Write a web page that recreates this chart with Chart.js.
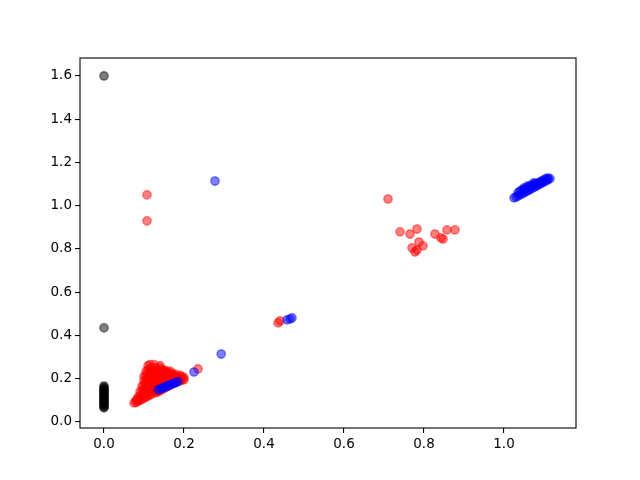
<!DOCTYPE html>
<html>
<head>
<meta charset="utf-8">
<script src="https://cdn.jsdelivr.net/npm/chart.js@4"></script>
<style>
  html, body { margin: 0; padding: 0; background: #fff; }
  #wrap { width: 640px; height: 480px; }
</style>
</head>
<body>
<div id="wrap"><canvas id="scatterChart" width="640" height="480"></canvas></div>
<script>
// axis ticks
const xTicks = [0.0, 0.2, 0.4, 0.6, 0.8, 1.0]
const yTicks = [0.0, 0.2, 0.4, 0.6, 0.8, 1.0, 1.2, 1.4, 1.6]

// red series: x values and y values (one line per column of the dense cluster)
const redX = [
  0.075,
  0.08, 0.08,
  0.085, 0.085, 0.085,
  0.09, 0.09, 0.09,
  0.095, 0.095, 0.095, 0.095,
  0.10, 0.10, 0.10, 0.10, 0.10, 0.10,
  0.105, 0.105, 0.105, 0.105, 0.105, 0.105, 0.105,
  0.11, 0.11, 0.11, 0.11, 0.11, 0.11, 0.11, 0.11,
  0.115, 0.115, 0.115, 0.115, 0.115, 0.115, 0.115, 0.115,
  0.12, 0.12, 0.12, 0.12, 0.12, 0.12, 0.12,
  0.125, 0.125, 0.125, 0.125, 0.125, 0.125, 0.125,
  0.13, 0.13, 0.13, 0.13, 0.13, 0.13, 0.13,
  0.135, 0.135, 0.135, 0.135, 0.135, 0.135,
  0.14, 0.14, 0.14, 0.14, 0.14, 0.14, 0.14,
  0.145, 0.145, 0.145, 0.145, 0.145, 0.145,
  0.15, 0.15, 0.15, 0.15, 0.15, 0.15,
  0.155, 0.155, 0.155, 0.155, 0.155,
  0.16, 0.16, 0.16, 0.16,
  0.165, 0.165, 0.165, 0.165, 0.165,
  0.17, 0.17, 0.17, 0.17,
  0.175, 0.175, 0.175,
  0.18, 0.18, 0.18, 0.18,
  0.185, 0.185,
  0.19, 0.19, 0.19,
  0.195, 0.195,
  0.20, 0.20,
  0.235,
  0.1075, 0.1075,
  0.435, 0.44,
  0.71, 0.74, 0.765, 0.7825, 0.8275, 0.8425, 0.8475, 0.8575, 0.8775,
  0.77, 0.7775, 0.7875, 0.7975, 0.7825
]
const redY = [
  0.088,
  0.09, 0.10,
  0.095, 0.105, 0.115,
  0.10, 0.12, 0.14,
  0.105, 0.125, 0.145, 0.165,
  0.11, 0.13, 0.15, 0.17, 0.19, 0.21,
  0.115, 0.135, 0.155, 0.175, 0.195, 0.215, 0.235,
  0.12, 0.14, 0.16, 0.18, 0.20, 0.22, 0.24, 0.26,
  0.125, 0.145, 0.165, 0.185, 0.205, 0.225, 0.245, 0.265,
  0.13, 0.15, 0.17, 0.19, 0.21, 0.23, 0.25,
  0.14, 0.16, 0.18, 0.20, 0.22, 0.24, 0.265,
  0.135, 0.15, 0.17, 0.19, 0.21, 0.23, 0.25,
  0.14, 0.16, 0.18, 0.20, 0.22, 0.24,
  0.145, 0.17, 0.19, 0.21, 0.23, 0.25, 0.26,
  0.15, 0.16, 0.18, 0.20, 0.22, 0.24,
  0.155, 0.17, 0.19, 0.21, 0.23, 0.24,
  0.16, 0.18, 0.20, 0.22, 0.235,
  0.165, 0.19, 0.21, 0.23,
  0.17, 0.18, 0.20, 0.22, 0.235,
  0.175, 0.19, 0.21, 0.225,
  0.18, 0.20, 0.215,
  0.185, 0.195, 0.21, 0.22,
  0.19, 0.205,
  0.19, 0.20, 0.215,
  0.195, 0.21,
  0.195, 0.205,
  0.245,
  1.05, 0.93,
  0.458, 0.467,
  1.031, 0.879, 0.869, 0.892, 0.869, 0.851, 0.846, 0.888, 0.888,
  0.805, 0.786, 0.832, 0.814, 0.795
]

// blue series
const blueX = [
  0.135, 0.14, 0.145, 0.15, 0.155, 0.16, 0.165, 0.17, 0.175, 0.18, 0.185,
  0.225, 0.2775, 0.293,
  0.4575, 0.465, 0.47,
  1.025, 1.03, 1.035, 1.035, 1.04, 1.04, 1.045, 1.045,
  1.05, 1.05, 1.05, 1.055, 1.055, 1.06, 1.06, 1.06,
  1.065, 1.065, 1.07, 1.07, 1.075, 1.075, 1.075,
  1.08, 1.08, 1.085, 1.085, 1.09, 1.09, 1.095, 1.095,
  1.10, 1.10, 1.105, 1.105, 1.11, 1.11, 1.115
]
const blueY = [
  0.148, 0.153, 0.156, 0.16, 0.163, 0.168, 0.172, 0.176, 0.179, 0.182, 0.187,
  0.231, 1.114, 0.314,
  0.472, 0.476, 0.481,
  1.036, 1.04, 1.045, 1.06, 1.05, 1.068, 1.055, 1.072,
  1.06, 1.075, 1.082, 1.065, 1.08, 1.07, 1.085, 1.092,
  1.075, 1.09, 1.08, 1.095, 1.085, 1.10, 1.106,
  1.09, 1.10, 1.095, 1.106, 1.10, 1.11, 1.105, 1.115,
  1.11, 1.12, 1.115, 1.125, 1.12, 1.128, 1.125
]

// black series (all at x = 0)
const blackY = [
  0.065, 0.07, 0.075, 0.08, 0.085, 0.09, 0.095, 0.10, 0.105, 0.11,
  0.115, 0.12, 0.125, 0.13, 0.135, 0.14, 0.145, 0.15, 0.155, 0.16, 0.166,
  0.435, 1.6
]
const blackX = blackY.map(() => 0)

const toPoints = (xs, ys) => xs.map((x, i) => ({ x: x, y: ys[i] }))

const frame = {
  id: 'frame',
  afterDatasetsDraw(chart) {
    const a = chart.chartArea
    const ctx = chart.ctx
    ctx.save()
    ctx.strokeStyle = '#000'
    ctx.lineWidth = 1.1
    ctx.strokeRect(a.left, a.top, a.right - a.left, a.bottom - a.top)
    ctx.restore()
  }
}

const axisStyle = {
  grid: { drawOnChartArea: false, drawTicks: true, tickLength: 5, color: '#000', lineWidth: 1.1 },
  border: { display: false },
  ticks: {
    color: '#000',
    padding: 3,
    font: { family: 'DejaVu Sans', size: 13.5 },
    callback: v => v.toFixed(1)
  }
}

new Chart('scatterChart', {
  type: 'scatter',
  data: {
    datasets: [
      {
        data: toPoints(blueX, blueY),
        backgroundColor: 'rgba(0, 0, 255, 0.5)',
        borderColor: 'rgba(0, 0, 255, 0.5)'
      },
      {
        data: toPoints(redX, redY),
        backgroundColor: 'rgba(255, 0, 0, 0.5)',
        borderColor: 'rgba(255, 0, 0, 0.5)'
      },
      {
        data: toPoints(blackX, blackY),
        backgroundColor: 'rgba(0, 0, 0, 0.5)',
        borderColor: 'rgba(0, 0, 0, 0.5)'
      }
    ]
  },
  options: {
    responsive: false,
    animation: false,
    layout: { padding: { left: 0, right: 64, top: 58, bottom: 0 } },
    elements: { point: { radius: 4.2, borderWidth: 1.3, hoverRadius: 4.2 } },
    plugins: { legend: { display: false }, tooltip: { enabled: false } },
    scales: {
      x: {
        ...axisStyle,
        min: -0.06,
        max: 1.18,
        afterBuildTicks: s => { s.ticks = xTicks.map(v => ({ value: v })) },
        afterFit: s => { s.height = 52 }
      },
      y: {
        ...axisStyle,
        min: -0.028,
        max: 1.683,
        afterBuildTicks: s => { s.ticks = yTicks.map(v => ({ value: v })) },
        afterFit: s => { s.width = 80 }
      }
    }
  },
  plugins: [frame]
})
</script>
</body>
</html>
